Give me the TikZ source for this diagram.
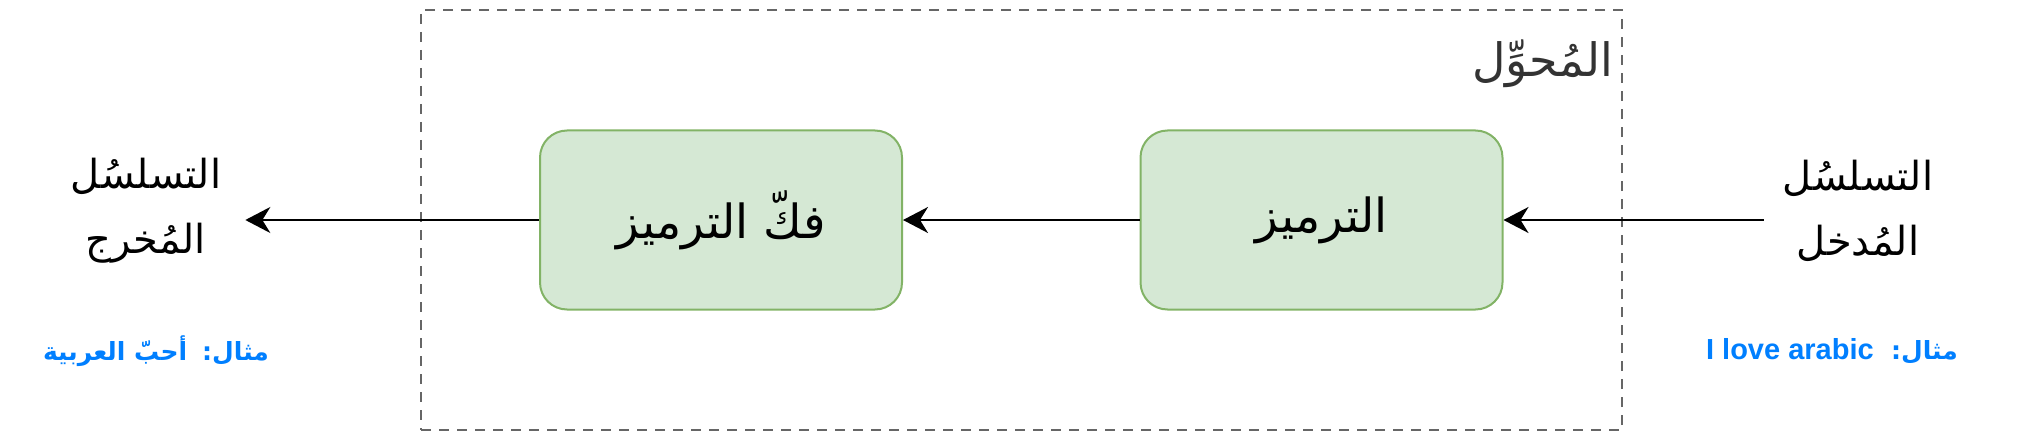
\documentclass[tikz,border=0pt]{standalone}
\usepackage{fontspec}
\setmainfont{Liberation Sans}
\newfontfamily\arabicfont[Script=Arabic]{DejaVu Sans}
\TeXXeTstate=1
\usetikzlibrary{arrows.meta}
\definecolor{boxfill}{HTML}{D5E8D4}
\definecolor{boxline}{HTML}{82B366}
\definecolor{frameline}{HTML}{666666}
\definecolor{titlegray}{HTML}{333333}
\definecolor{exblue}{HTML}{007FFF}
\tikzset{
  stage/.style={draw=boxline, fill=boxfill, line width=2pt, rounded corners=27pt,
    minimum width=362pt, minimum height=179pt, font=\arabicfont\fontsize{47}{56}\selectfont},
  flow/.style={-{Stealth[length=25pt,width=26pt,inset=8pt]}, line width=2.3pt},
  seq/.style={align=center, font=\arabicfont\fontsize{40}{65}\selectfont},
  example/.style={text=exblue, inner sep=0pt, font=\bfseries\fontsize{29}{35}\selectfont}
}
\begin{document}
\begin{tikzpicture}[x=1pt,y=-1pt]
  \useasboundingbox (0,0) rectangle (2037,441);
  % the converter frame
  \node[draw=frameline, dashed, dash pattern=on 10pt off 8pt, line width=2pt,
    minimum width=1201pt, minimum height=420pt] (conv) at (1021.5,220) {};
  \node[anchor=east, inner sep=0pt, text=titlegray, font=\arabicfont\fontsize{46}{55}\selectfont]
    (title) at (1613,64) {\beginR المُحوِّل\endR};
  % the two stages
  \node[stage] (enc) at (1321.5,220) {\beginR الترميز\endR};
  \node[stage] (dec) at (721,220) {\beginR فكّ الترميز\endR};
  % input and output
  \node[seq, inner sep=19pt] (in) at (1858,211) {\beginR التسلسُل\endR\\\beginR المُدخل\endR};
  \node[seq, inner sep=24pt] (out) at (146,211) {\beginR التسلسُل\endR\\\beginR المُخرج\endR};
  \node[example] (inex) at (1832,351)
    {\beginR{\arabicfont\fontsize{25}{30}\selectfont مثال:}\hspace{0.6em}\beginL I love arabic\endL\endR};
  \node[example] (outex) at (156,351)
    {\arabicfont\fontsize{25}{30}\selectfont\beginR مثال:\hspace{0.6em}أحبّ العربية\endR};
  % arrows
  \draw[flow] (in.west |- enc.east) -- (enc.east);
  \draw[flow] (enc.west) -- (dec.east);
  \draw[flow] (dec.west) -- (out.east |- dec.west);
\end{tikzpicture}
\end{document}
